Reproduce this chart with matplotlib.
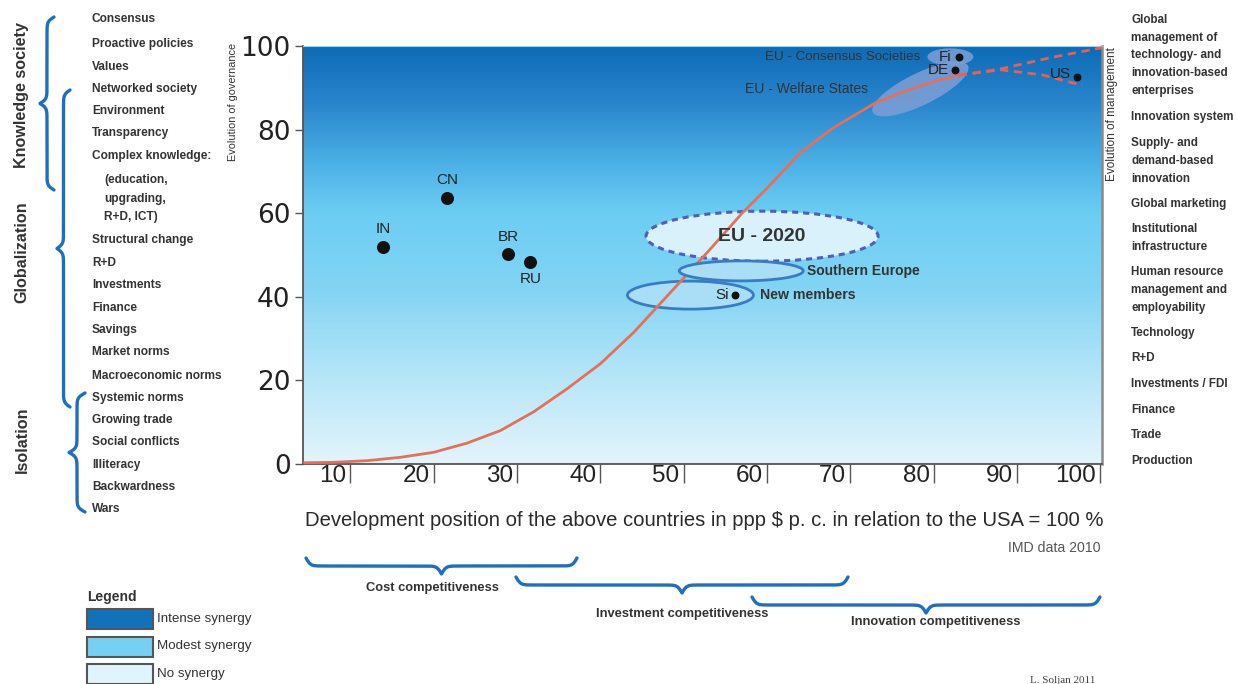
import numpy as np
import matplotlib
matplotlib.use('Agg')
import matplotlib.pyplot as plt
from matplotlib.patches import Ellipse, Rectangle
from matplotlib.colors import LinearSegmentedColormap
import matplotlib.transforms as mtransforms

plt.rcParams['font.family'] = ['DejaVu Sans Condensed', 'Liberation Sans', 'DejaVu Sans']

# ---- data ----
countries = ['IN', 'CN', 'BR', 'RU', 'Si', 'Fi', 'DE', 'US']
dev_pos = [13.9, 21.6, 28.9, 31.5, 56.2, 83.0, 82.6, 97.2]
governance = [51.9, 63.6, 50.2, 48.3, 40.4, 97.4, 94.3, 92.6]
big_dot = [True, True, True, True, False, False, False, False]

curve_x = [4.5, 8, 12, 16, 20, 24, 28, 32, 36, 40, 44, 47, 50, 53, 57, 60, 64, 68, 73, 77, 80, 83]
curve_y = [0.3, 0.4, 0.8, 1.6, 2.8, 5, 8, 12.5, 18, 24, 31.5, 38, 44.5, 51, 60, 66, 74.5, 80.5, 86.4, 89.5, 91.5, 93]
up_x = [83, 88, 94, 100.2]
up_y = [93, 94.5, 97.2, 99.6]
down_x = [83, 88, 93, 97.8]
down_y = [93, 94.3, 93.1, 90.6]

# groups: name, centre x, centre y
groups = ['EU - Consensus Societies', 'EU - Welfare States', 'EU - 2020', 'Southern Europe', 'New members']
group_x = [82.0, 78.4, 59.4, 56.9, 50.8]
group_y = [97.4, 89.7, 54.5, 46.2, 40.4]

x_ticks = [10, 20, 30, 40, 50, 60, 70, 80, 90, 100]
y_ticks = [0, 20, 40, 60, 80, 100]

left_items = ['Consensus', 'Proactive policies', 'Values', 'Networked society', 'Environment',
              'Transparency', 'Complex knowledge:', '(education,', 'upgrading,', 'R+D, ICT)',
              'Structural change', 'R+D', 'Investments', 'Finance', 'Savings', 'Market norms',
              'Macroeconomic norms', 'Systemic norms', 'Growing trade', 'Social conflicts',
              'Illiteracy', 'Backwardness', 'Wars']
right_items = ['Global', 'management of', 'technology- and', 'innovation-based', 'enterprises',
               'Innovation system', 'Supply- and', 'demand-based', 'innovation', 'Global marketing',
               'Institutional', 'infrastructure', 'Human resource', 'management and', 'employability',
               'Technology', 'R+D', 'Investments / FDI', 'Finance', 'Trade', 'Production']
stages = ['Knowledge society', 'Globalization', 'Isolation']
competitiveness = ['Cost competitiveness', 'Investment competitiveness', 'Innovation competitiveness']
legend_labels = ['Intense synergy', 'Modest synergy', 'No synergy']
legend_colors = ['#1172b9', '#76d0f3', '#e0f4fc']

W, H = 1237, 684
TXT = '#333333'
BLUE = '#1f6fc0'

fig = plt.figure(figsize=(W / 100, H / 100), dpi=100)
PX = mtransforms.Affine2D().scale(1 / W, -1 / H).translate(0, 1) + fig.transFigure

ax = fig.add_axes([303 / W, 1 - 464 / H, 799 / W, 418 / H])
ax.set_xlim(4.3, 100.2)
ax.set_ylim(0, 100)

cmap = LinearSegmentedColormap.from_list('bg', [
    (0.0, '#e3f5fc'), (0.2, '#b8e6f9'), (0.42, '#82d4f4'), (0.6, '#6ccdf3'),
    (0.72, '#4bb0e6'), (0.86, '#2a86cc'), (1.0, '#0d6ab5')])
grad = np.linspace(0, 1, 256).reshape(-1, 1)
ax.imshow(grad, extent=[4.3, 100.2, 0, 100], origin='lower', aspect='auto', cmap=cmap, zorder=0)

# curve
ax.plot(curve_x, curve_y, color='#e4705a', lw=2, zorder=3)
ax.plot(up_x, up_y, color='#e4605a', lw=2, ls=(0, (3, 2)), zorder=3)
ax.plot(down_x, down_y, color='#e4605a', lw=2, ls=(0, (3, 2)), zorder=3)

# ellipses: size in inches, centre in data
def ell(i, w, h, angle, **kw):
    tr = fig.dpi_scale_trans + mtransforms.ScaledTranslation(group_x[i], group_y[i], ax.transData)
    e = Ellipse((0, 0), w, h, angle=angle, transform=tr, **kw)
    ax.add_patch(e)

ell(0, 0.46, 0.17, 0, facecolor='#7e9fd6', edgecolor='none', alpha=0.85, zorder=2)
ell(1, 1.06, 0.32, 26, facecolor='#7e9fd6', edgecolor='none', alpha=0.85, zorder=2)
ell(2, 2.32, 0.50, 0, facecolor='#d9f1fb', edgecolor='#4f5fb5', lw=2.2, ls=(0, (2, 1.6)), zorder=2)
ell(3, 1.24, 0.20, 0, facecolor='#a9def6', edgecolor='#3a7cc4', lw=2, zorder=4)
ell(4, 1.26, 0.28, 0, facecolor='#a9def6', edgecolor='#3a7cc4', lw=2, zorder=2)

# dots
for i, c in enumerate(countries):
    ax.scatter(dev_pos[i], governance[i], s=70 if big_dot[i] else 22, color='#111111', zorder=5)

lab_off = {'IN': (0, 8, 'center', 'bottom'), 'CN': (0, 8, 'center', 'bottom'),
           'BR': (0, 7, 'center', 'bottom'), 'RU': (1, -7, 'center', 'top'),
           'Si': (-5, 0, 'right', 'center'), 'Fi': (-5, 0, 'right', 'center'),
           'DE': (-5, 0, 'right', 'center'), 'US': (-4, 2, 'right', 'center')}
for i, c in enumerate(countries):
    dx, dy, ha, va = lab_off[c]
    ax.annotate(c, (dev_pos[i], governance[i]), xytext=(dx, dy), textcoords='offset points',
                ha=ha, va=va, fontsize=11, color='#222222', zorder=6)

# group labels
ax.annotate(groups[0], (group_x[0], group_y[0]), xytext=(-22, 0), textcoords='offset points',
            ha='right', va='center', fontsize=9.6, color='#333333', zorder=6)
ax.annotate(groups[1], (group_x[1], group_y[1]), xytext=(-38, 0), textcoords='offset points',
            ha='right', va='center', fontsize=10, color='#333333', zorder=6)
ax.text(group_x[2], group_y[2], groups[2], ha='center', va='center', fontsize=14,
        fontweight='bold', color='#333333', zorder=6)
ax.annotate(groups[3], (group_x[3], group_y[3]), xytext=(47, 0), textcoords='offset points',
            ha='left', va='center', fontsize=10, fontweight='bold', color='#333333', zorder=6)
ax.annotate(groups[4], (dev_pos[4], governance[4]), xytext=(18, 0), textcoords='offset points',
            ha='left', va='center', fontsize=10.2, fontweight='bold', color='#333333', zorder=6)

# axes styling
for s in ['left', 'bottom']:
    ax.spines[s].set_color('#555555')
    ax.spines[s].set_linewidth(1.3)
ax.spines['right'].set_color('#8a8a8a')
ax.spines['right'].set_linewidth(1.8)
ax.spines['top'].set_color('#a8d0ee')
ax.set_yticks(y_ticks)
ax.set_yticklabels([str(v) for v in y_ticks], fontsize=19, family=['DejaVu Sans'], color='#222222')
ax.tick_params(axis='y', direction='out', length=6, width=1, color='#555555', pad=3)
ax.set_xticks(x_ticks)
ax.set_xticklabels([str(v) for v in x_ticks], fontsize=17.5, color='#222222')
ax.tick_params(axis='x', direction='out', length=14, width=1, color='#555555', pad=-13)
off = mtransforms.ScaledTranslation(-3 / 72, 0, fig.dpi_scale_trans)
for lbl in ax.get_xticklabels():
    lbl.set_horizontalalignment('right')
    lbl.set_verticalalignment('top')
    lbl.set_transform(lbl.get_transform() + off)

# axis titles
fig.text(704, 521, 'Development position of the above countries in ppp $ p. c. in relation to the USA = 100 %',
         transform=PX, ha='center', va='center', fontsize=14.6, color='#2a2a2a')
fig.text(1100, 548, 'IMD data 2010', transform=PX, ha='right', va='center', fontsize=10.2, color='#555555')
fig.text(233, 102, 'Evolution of governance', transform=PX, rotation=90, ha='center', va='center',
         fontsize=7.8, color=TXT)
fig.text(1112, 114, 'Evolution of management', transform=PX, rotation=90, ha='center', va='center',
         fontsize=8.5, color=TXT)

# left list
left_y = [19, 44, 67, 89, 111, 133, 156, 180, 199, 217, 240, 263, 285, 308, 330, 352, 376,
          398, 420, 442, 465, 487, 509]
indented = ('(education,', 'upgrading,', 'R+D, ICT)')
for t, y in zip(left_items, left_y):
    x = 104 if t in indented else 92
    fig.text(x, y, t, transform=PX, ha='left', va='center', fontsize=8.6, fontweight='bold', color=TXT)

# right list
right_y = [20, 38, 55, 73, 91, 117, 143, 161, 179, 204, 229, 247, 272, 290, 308, 333, 358,
           384, 410, 435, 461]
for t, y in zip(right_items, right_y):
    fig.text(1131, y, t, transform=PX, ha='left', va='center', fontsize=8.4, fontweight='bold',
             color=TXT)

# braces
def brace(length_px, beta_px=0.45):
    uh = np.linspace(0, 0.5, 80)
    b = beta_px * length_px
    yh = 1 / (1 + np.exp(-b * (uh - uh[0]))) + 1 / (1 + np.exp(-b * (uh - uh[-1])))
    y = np.concatenate([yh, yh[-2::-1]]) - 0.5
    u = np.concatenate([uh, 1 - uh[-2::-1]])
    return u, y

def vbrace(x_end, y0, y1, depth):
    u, v = brace(y1 - y0)
    fig.add_artist(plt.Line2D(x_end - v * depth, y0 + u * (y1 - y0), transform=PX,
                              color=BLUE, lw=2.4, solid_capstyle='round'))

def hbrace(x0, x1, y_end, depth):
    u, v = brace(x1 - x0)
    fig.add_artist(plt.Line2D(x0 + u * (x1 - x0), y_end + v * depth, transform=PX,
                              color=BLUE, lw=2.4, solid_capstyle='round'))

vbrace(54, 17, 190, 14)
vbrace(70, 90, 407, 13)
vbrace(85, 393, 512, 16)

stage_y = [95, 252, 440]
for t, y in zip(stages, stage_y):
    fig.text(22, y, t, transform=PX, rotation=90, ha='center', va='center', fontsize=11.6,
             fontweight='bold', color=TXT)

hbrace(306, 577, 558, 16)
hbrace(516, 848, 577, 16)
hbrace(752, 1100, 597, 16)
comp_xy = [(432, 588), (682, 614), (936, 622)]
for t, (x, y) in zip(competitiveness, comp_xy):
    fig.text(x, y, t, transform=PX, ha='center', va='center', fontsize=9.3, fontweight='bold', color=TXT)

# legend
fig.text(87, 597, 'Legend', transform=PX, ha='left', va='center', fontsize=10, fontweight='bold', color=TXT)
for i, (t, c) in enumerate(zip(legend_labels, legend_colors)):
    y = 609 + i * 27.5
    fig.add_artist(Rectangle((87, y), 66, 20, transform=PX, facecolor=c, edgecolor='#555555', lw=1.5))
    fig.text(157, y + 10, t, transform=PX, ha='left', va='center', fontsize=9.6, color=TXT)

fig.text(1030, 676, 'L. Soljan 2011', transform=PX, ha='left', va='top', fontsize=8,
         family=['Liberation Serif', 'DejaVu Serif'], color='#444444')

fig.savefig('out.png', dpi=100)
